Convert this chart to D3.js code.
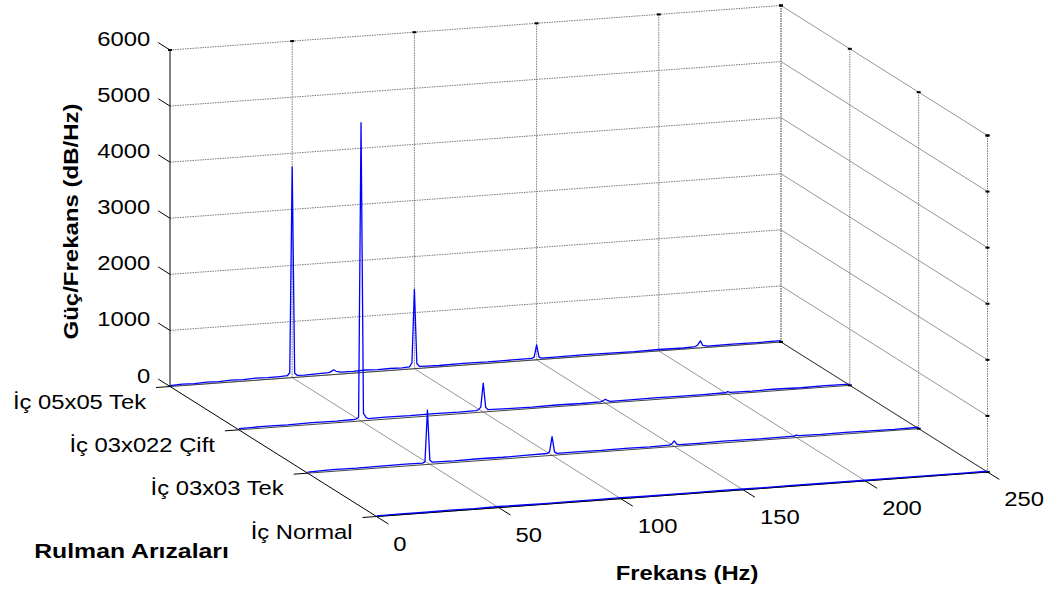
<!DOCTYPE html>
<html>
<head>
<meta charset="utf-8">
<script src="https://cdn.jsdelivr.net/npm/d3@7"></script>
<style>
  html, body { margin: 0; padding: 0; background: #fff; }
  svg { display: block; font-family: "Liberation Sans", Arial, sans-serif; }
</style>
</head>
<body>
<svg id="chart" width="1052" height="594"></svg>
<script>
// Tick values
const freqTicks = [0, 50, 100, 150, 200, 250];
const powerTicks = [0, 1000, 2000, 3000, 4000, 5000, 6000];

// Fault categories, back row first
const faultLabels = ["İç 05x05 Tek", "İç 03x022 Çift", "İç 03x03 Tek", "İç Normal"];

// Power spectral density per bearing condition: [frequency (Hz), power]
const spectrumTek0505 = [
  [0, 15], [5, 25], [10, 20], [15, 30], [20, 25], [25, 35], [30, 28], [35, 40], [40, 30], [45, 35],
  [48, 40], [49, 90], [50, 3755], [51, 80], [52, 35], [55, 30], [60, 35], [65, 40], [66, 60], [67, 85],
  [68, 55], [70, 35], [75, 30], [80, 40], [85, 30], [90, 35], [95, 30], [98, 40], [99, 110], [100, 1415],
  [101, 90], [102, 35], [105, 30], [110, 25], [120, 30], [130, 25], [140, 30], [148, 30], [149, 50], [150, 265],
  [151, 45], [152, 25], [160, 25], [170, 30], [180, 25], [190, 20], [200, 25], [210, 20], [215, 30], [216, 60],
  [217, 125], [218, 40], [220, 20], [230, 25], [240, 20], [250, 25]
];
const spectrumCift03022 = [
  [0, 20], [10, 30], [20, 25], [30, 35], [40, 30], [47, 35], [48, 40], [49, 70], [50, 5320], [51, 130],
  [52, 60], [53, 30], [60, 35], [70, 30], [80, 35], [90, 30], [97, 35], [98, 45], [99, 90], [100, 515],
  [101, 80], [102, 35], [110, 30], [120, 25], [130, 30], [140, 25], [148, 30], [149, 45], [150, 70], [151, 40],
  [152, 25], [160, 25], [170, 30], [180, 25], [190, 25], [199, 30], [200, 48], [201, 30], [210, 25], [220, 30],
  [230, 20], [240, 25], [250, 20]
];
const spectrumTek0303 = [
  [0, 20], [10, 30], [20, 25], [30, 30], [40, 35], [47, 30], [48, 50], [49, 970], [50, 70], [51, 35],
  [60, 30], [70, 35], [80, 30], [90, 35], [98, 40], [99, 70], [100, 335], [101, 60], [102, 30], [110, 30],
  [120, 25], [130, 30], [140, 25], [148, 30], [149, 50], [150, 100], [151, 40], [152, 25], [160, 25], [170, 30],
  [180, 25], [190, 25], [199, 30], [200, 45], [201, 30], [210, 25], [220, 30], [230, 25], [240, 20], [250, 25]
];
const spectrumNormal = [
  [0, 10], [10, 15], [20, 12], [30, 18], [40, 14], [50, 20], [60, 15], [70, 12], [80, 16], [90, 14],
  [100, 18], [110, 12], [120, 15], [130, 13], [140, 16], [150, 14], [160, 12], [170, 15], [180, 13], [190, 14],
  [200, 12], [210, 15], [220, 13], [230, 14], [240, 12], [250, 13]
];
const spectra = [spectrumTek0505, spectrumCift03022, spectrumTek0303, spectrumNormal];

// ---- 3D projection (fixed orthographic view) ----
const svg = d3.select("#chart");
const origin = [170, 386.5];          // f = 0, back row, power = 0
const fVec = [611, -44.5];            // full frequency span
const rVec = [206.5, 130];            // back row -> front row
const pVec = [0, -336.5];             // full power span

const freqScale = d3.scaleLinear().domain([0, 250]).range([0, 1]);
const rowScale = d3.scalePoint().domain(faultLabels).range([0, 1]);
const powerScale = d3.scaleLinear().domain([0, 6000]).range([0, 1]);

function project(f, row, p) {
  const a = freqScale(f), b = rowScale(row), c = powerScale(p);
  return [origin[0] + a * fVec[0] + b * rVec[0] + c * pVec[0],
          origin[1] + a * fVec[1] + b * rVec[1] + c * pVec[1]];
}
function unit(v) { const l = Math.hypot(v[0], v[1]); return [v[0] / l, v[1] / l]; }

const back = faultLabels[0], front = faultLabels[faultLabels.length - 1];
const fMax = freqTicks[freqTicks.length - 1], pMax = powerTicks[powerTicks.length - 1];

function seg(g, a, b, cls) {
  g.append("line").attr("class", cls)
    .attr("x1", a[0]).attr("y1", a[1]).attr("x2", b[0]).attr("y2", b[1]);
}

// ---- grid ----
const grid = svg.append("g").attr("fill", "none");
const dotted = { stroke: "#7a7a7a", "stroke-width": 1, "stroke-dasharray": "1.5,1" };
const slanted = { stroke: "#8a8a8a", "stroke-width": 0.9 };

function styled(sel, st) { Object.entries(st).forEach(([k, v]) => sel.attr(k, v)); return sel; }

// back wall
powerTicks.forEach(p => {
  styled(grid.append("line"), dotted)
    .attr("x1", project(0, back, p)[0]).attr("y1", project(0, back, p)[1])
    .attr("x2", project(fMax, back, p)[0]).attr("y2", project(fMax, back, p)[1]);
});
freqTicks.slice(1).forEach(f => {
  styled(grid.append("line"), dotted)
    .attr("x1", project(f, back, 0)[0]).attr("y1", project(f, back, 0)[1])
    .attr("x2", project(f, back, pMax)[0]).attr("y2", project(f, back, pMax)[1]);
});
// right wall
powerTicks.forEach(p => {
  styled(grid.append("line"), slanted)
    .attr("x1", project(fMax, back, p)[0]).attr("y1", project(fMax, back, p)[1])
    .attr("x2", project(fMax, front, p)[0]).attr("y2", project(fMax, front, p)[1]);
});
faultLabels.forEach(r => {
  styled(grid.append("line"), dotted)
    .attr("x1", project(fMax, r, 0)[0]).attr("y1", project(fMax, r, 0)[1])
    .attr("x2", project(fMax, r, pMax)[0]).attr("y2", project(fMax, r, pMax)[1]);
});
// floor
freqTicks.slice(1).forEach(f => {
  styled(grid.append("line"), slanted)
    .attr("stroke", f === fMax ? "#333" : slanted.stroke)
    .attr("x1", project(f, back, 0)[0]).attr("y1", project(f, back, 0)[1])
    .attr("x2", project(f, front, 0)[0]).attr("y2", project(f, front, 0)[1]);
});
faultLabels.forEach(r => {
  styled(grid.append("line"), { stroke: "#444", "stroke-width": 1 })
    .attr("x1", project(0, r, 0)[0]).attr("y1", project(0, r, 0)[1])
    .attr("x2", project(fMax, r, 0)[0]).attr("y2", project(fMax, r, 0)[1]);
});

// ---- axes ----
const axes = svg.append("g").attr("stroke", "#000").attr("stroke-width", 1).attr("fill", "none");
seg(axes, project(0, back, 0), project(0, back, pMax));
seg(axes, project(0, back, 0), project(0, front, 0));
seg(axes, project(0, front, 0), project(fMax, front, 0));

const TICK = 14;
const rU = unit(rVec), fU = unit(fVec);
const SX = 1.19; // horizontal text stretch

const labels = svg.append("g").attr("fill", "#000").attr("font-size", 20);
function label(txt, x, yCenter, anchor) {
  labels.append("text")
    .attr("transform", `translate(${x},${yCenter}) scale(${SX},1)`)
    .attr("text-anchor", anchor).attr("dy", "0.35em").text(txt);
}

// power (z) axis
powerTicks.forEach(p => {
  const a = project(0, back, p), b = [a[0] - rU[0] * TICK, a[1] - rU[1] * TICK];
  seg(axes, a, b);
  label(d3.format("d")(p), b[0] - 8, b[1] - 3.5, "end");
});
// fault (y) axis
faultLabels.forEach(r => {
  const a = project(0, r, 0), b = [a[0] - fU[0] * TICK, a[1] - fU[1] * TICK];
  seg(axes, a, b);
  label(r, b[0] - 10, b[1] + 14, "end");
});
// frequency (x) axis
freqTicks.forEach(f => {
  const a = project(f, front, 0), b = [a[0] + rU[0] * TICK, a[1] + rU[1] * TICK];
  seg(axes, a, b);
  label(String(f), b[0] + 5, b[1] + 20, "start");
});

// small tick marks on the far box edges
const marks = svg.append("g").attr("stroke", "#000").attr("stroke-width", 2);
function mark(pt) { seg(marks, [pt[0] - 2, pt[1]], [pt[0] + 2, pt[1]]); }
freqTicks.forEach(f => mark(project(f, back, pMax)));
faultLabels.forEach(r => { mark(project(fMax, r, pMax)); mark(project(fMax, r, 0)); });
powerTicks.forEach(p => mark(project(fMax, front, p)));

// ---- spectra, back to front ----
const line = d3.line().x(d => d[0]).y(d => d[1]);
const traces = svg.append("g").attr("fill", "none").attr("stroke", "#0000ff")
  .attr("stroke-width", 1.3).attr("stroke-linejoin", "round");
spectra.forEach((s, i) => {
  traces.append("path").attr("d", line(s.map(([f, p]) => project(f, faultLabels[i], p))));
});

// ---- axis titles ----
const titles = svg.append("g").attr("font-weight", "bold").attr("font-size", 20).attr("fill", "#000");
titles.append("text")
  .attr("transform", "translate(71,221.5) rotate(-90) scale(1.2,1.0)")
  .attr("text-anchor", "middle").attr("dy", "0.35em").text("Güç/Frekans (dB/Hz)");
titles.append("text")
  .attr("transform", `translate(687,573) scale(${SX},1)`)
  .attr("text-anchor", "middle").attr("dy", "0.35em").text("Frekans (Hz)");
titles.append("text")
  .attr("transform", `translate(131.5,551) scale(1.24,1)`)
  .attr("text-anchor", "middle").attr("dy", "0.35em").text("Rulman Arızaları");
</script>
</body>
</html>
